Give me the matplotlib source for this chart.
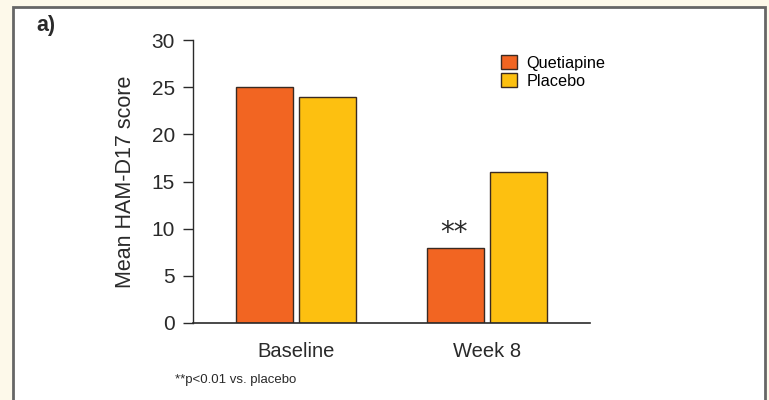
import numpy as np
from matplotlib import pyplot as plt
from matplotlib.patches import Rectangle, Patch

plt.rcParams['font.family'] = ['Liberation Sans', 'DejaVu Sans']

# data
groups = ["Baseline", "Week 8"]
quetiapine = [25, 8]
placebo = [24, 16]
series_names = ["Quetiapine", "Placebo"]
yticks = [0, 5, 10, 15, 20, 25, 30]

orange = "#f26522"
yellow = "#fdc010"
edge = "#3a2a22"
txt = "#2a2a2a"

fig = plt.figure(figsize=(7.69, 4.0), dpi=100)
fig.patch.set_facecolor("#fdf9ea")

# white panel with grey border (open at the bottom)
panel = Rectangle((13/769, -0.05), (765-13)/769, (400-7)/400 + 0.05,
                  transform=fig.transFigure, facecolor="white",
                  edgecolor="#666666", linewidth=2.0, zorder=-10)
fig.patches.append(panel)

ax = fig.add_axes([193/769, (400-323)/400, (590-193)/769, (323-40)/400])
ax.set_facecolor("none")

x = np.arange(len(groups))
w = 0.298
off = 0.165
ax.bar(x - off, quetiapine, w, color=orange, edgecolor=edge, linewidth=1.0, zorder=2)
ax.bar(x + off, placebo, w, color=yellow, edgecolor=edge, linewidth=1.0, zorder=2)

ax.set_xlim(-0.54, 1.54)
ax.set_ylim(0, 30)
ax.set_yticks(yticks)
ax.set_xticks(x)
ax.set_xticklabels(groups, fontsize=14.5, color=txt)
ax.tick_params(axis="x", length=0, pad=14)
ax.tick_params(axis="y", length=7, width=1.0, color=txt,
               labelsize=15, labelcolor=txt, pad=6)
for s in ["top", "right"]:
    ax.spines[s].set_visible(False)
ax.spines["left"].set_color(txt)
ax.spines["bottom"].set_color(txt)
ax.spines["left"].set_linewidth(1.0)
ax.spines["bottom"].set_linewidth(1.2)

ax.set_ylabel("Mean HAM-D17 score", fontsize=15.5, color=txt, labelpad=11)

# significance marker
ax.text(x[1] - off - 0.01, quetiapine[1] + 0.1, "**", ha="center", va="bottom",
        fontsize=20, color=txt, family="DejaVu Sans")

handles = [Patch(facecolor=orange, edgecolor=edge, linewidth=1.0),
           Patch(facecolor=yellow, edgecolor=edge, linewidth=1.0)]
ax.legend(handles, series_names, loc="upper left", bbox_to_anchor=(0.76, 0.97),
          frameon=False, fontsize=11.7, handlelength=0.95, handleheight=0.95,
          handletextpad=0.6, labelspacing=0.15, borderaxespad=0)

fig.text(36/769, 1 - 26/400, "a)", fontsize=15.5, fontweight="bold",
         color=txt, va="center")
fig.text(175/769, 1 - 380/400, "**p<0.01 vs. placebo", fontsize=9.5,
         color=txt, va="center")

fig.savefig("out.png", dpi=100, facecolor=fig.get_facecolor())
